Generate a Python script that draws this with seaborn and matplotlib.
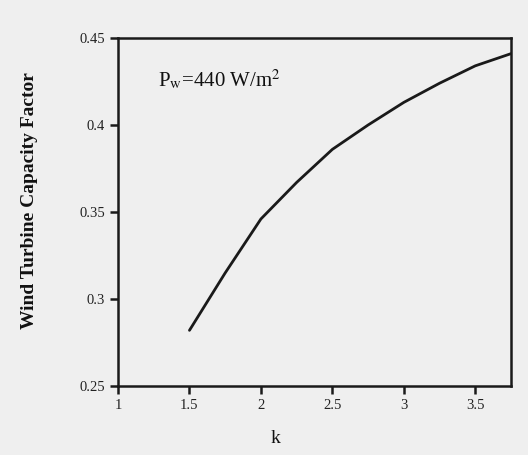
import matplotlib
matplotlib.use("Agg")
import matplotlib.pyplot as plt
import seaborn as sns
import pandas as pd

k_values = [1.5, 1.75, 2.0, 2.25, 2.5, 2.75, 3.0, 3.25, 3.5, 3.75]
capacity_factor = [0.282, 0.315, 0.346, 0.367, 0.386, 0.400, 0.413, 0.424, 0.434, 0.441]
x_ticks = [1, 1.5, 2, 2.5, 3, 3.5]
y_ticks = [0.25, 0.3, 0.35, 0.4, 0.45]
y_tick_labels = ["0.25", "0.3", "0.35", "0.4", "0.45"]

sns.set_style("ticks")
plt.rcParams["font.family"] = ["Liberation Serif", "DejaVu Serif"]
plt.rcParams["mathtext.fontset"] = "stix"

df = pd.DataFrame({"k": k_values, "cf": capacity_factor})

bg = "#efefef"
fig = plt.figure(figsize=(5.28, 4.55), dpi=100, facecolor=bg)
ax = fig.add_axes([0.2235, 0.1516, 0.7443, 0.7649])
ax.set_facecolor(bg)

sns.lineplot(data=df, x="k", y="cf", ax=ax, color="#1a1a1a", linewidth=2)

ax.set_xlim(1, 3.75)
ax.set_ylim(0.25, 0.45)
ax.set_xticks(x_ticks)
ax.set_xticklabels([str(t) for t in x_ticks])
ax.set_yticks(y_ticks)
ax.set_yticklabels(y_tick_labels)
ax.tick_params(axis="both", direction="out", length=6, width=1.8, color="#1a1a1a",
               labelsize=10.5, labelcolor="#222222", top=False, right=False)
for s in ax.spines.values():
    s.set_linewidth(1.8)
    s.set_color("#1a1a1a")
    s.set_visible(True)

ax.set_xlabel("k", fontsize=14, color="#111111")
ax.xaxis.set_label_coords(0.40, -0.125)
ax.set_ylabel("Wind Turbine Capacity Factor", fontsize=14, fontweight="bold",
              color="#111111")
ax.yaxis.set_label_coords(-0.204, 0.534)

ax.text(0.102, 0.879, r"P$_\mathrm{w}$=440 W/m$^2$", transform=ax.transAxes,
        fontsize=15, color="#111111", ha="left", va="center")

fig.savefig("out.png", dpi=100, facecolor=bg)
